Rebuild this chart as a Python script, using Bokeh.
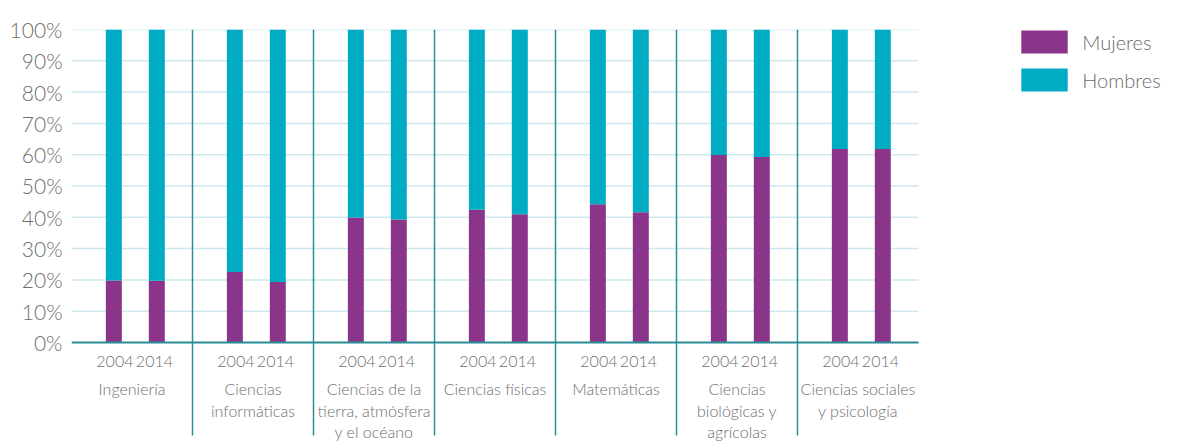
from bokeh.plotting import figure
from bokeh.models import Range1d, FixedTicker, ColumnDataSource, Legend, LegendItem
from bokeh.core.properties import value
from bokeh.embed import file_html
from bokeh.resources import INLINE

# ---- data ----
categories = ["Ingeniería", "Ciencias\ninformáticas", "Ciencias de la\ntierra, atmósfera\ny el océano",
              "Ciencias físicas", "Matemáticas", "Ciencias\nbiológicas y\nagrícolas",
              "Ciencias sociales\ny psicología"]
years = ["2004", "2014"]
mujeres_2004 = [19.8, 22.5, 39.9, 42.4, 44.2, 59.9, 61.8]
mujeres_2014 = [19.7, 19.3, 39.3, 41.0, 41.6, 59.3, 61.8]
y_ticks = [0, 10, 20, 30, 40, 50, 60, 70, 80, 90, 100]
y_tick_labels = [f"{t}%" for t in y_ticks]

PURPLE = "#8a3589"
CYAN = "#00acc3"
TEAL = "#2c8e96"
GRID = "#cde9ef"
TXT = "#6e6e6e"
FONT = "Lato Light, Lato"

n = len(categories)
UNIT = 121.0  # px per group
off = [0.35, 0.705]

xs, muj, hom = [], [], []
for i in range(n):
    for j, vals in enumerate([mujeres_2004, mujeres_2014]):
        xs.append(i + off[j])
        muj.append(vals[i])
        hom.append(100 - vals[i])
src = ColumnDataSource(dict(x=xs, Mujeres=muj, Hombres=hom))

W, H = 1178, 441
left, top = 71, 29
frame_w = W - left
p = figure(width=W, height=H, output_backend="svg", toolbar_location=None,
           x_range=Range1d(0, frame_w / UNIT), y_range=Range1d(-31.63, 100),
           min_border_left=left, min_border_right=0, min_border_top=top, min_border_bottom=0,
           x_axis_location=None)
p.outline_line_color = None
p.xgrid.visible = False
p.ygrid.visible = False

p.yaxis.ticker = FixedTicker(ticks=y_ticks)
p.yaxis.major_label_overrides = {t: l for t, l in zip(y_ticks, y_tick_labels)}
p.yaxis.axis_line_color = None
p.yaxis.major_tick_line_color = None
p.yaxis.minor_tick_line_color = None
p.yaxis.major_tick_out = 0
p.yaxis.major_label_standoff = 9
p.yaxis.major_label_text_font = FONT
p.yaxis.major_label_text_font_size = "21px"
p.yaxis.major_label_text_color = TXT

# gridlines (only across the chart area)
p.segment(x0=[0] * len(y_ticks), x1=[n] * len(y_ticks), y0=y_ticks, y1=y_ticks,
          line_color=GRID, line_width=1.5)

# separators
sep_x = [float(k) for k in range(1, n)]
p.segment(x0=sep_x, x1=sep_x, y0=[100] * len(sep_x), y1=[-29.7] * len(sep_x),
          line_color=TEAL, line_width=1.5)

rs = p.vbar_stack(["Mujeres", "Hombres"], x="x", width=0.132, source=src,
                  color=[PURPLE, CYAN], line_color=None)

# baseline
p.segment(x0=[0], x1=[n], y0=[0], y1=[0], line_color=TEAL, line_width=2)

# year labels
p.text(x=[i + 0.512 for i in range(n)], y=[-6.0] * n, text=[years[0]] * n,
       text_align="right", text_baseline="middle",
       text_font=value(FONT), text_font_size="16px", text_color=TXT)
p.text(x=[i + 0.532 for i in range(n)], y=[-6.0] * n, text=[years[1]] * n,
       text_align="left", text_baseline="middle",
       text_font=value(FONT), text_font_size="16px", text_color=TXT)

# category labels
p.text(x=[i + 0.5 for i in range(n)], y=[-11.6] * n, text=categories,
       text_align="center", text_baseline="top", text_line_height=1.15,
       text_font=value(FONT), text_font_size="16px", text_color=TXT)

gw, gh = 57.5, 28.75
legend = Legend(items=[LegendItem(label="Mujeres", renderers=[rs[0]]),
                       LegendItem(label="Hombres", renderers=[rs[1]])],
                location=(1015.25 - left, H - 94), orientation="vertical",
                glyph_width=int(round(gw)), glyph_height=int(round(gh)), label_height=int(round(gh)),
                spacing=9, label_standoff=9, padding=0, margin=0,
                border_line_color=None, background_fill_alpha=0,
                label_text_font=FONT, label_text_font_size="20px", label_text_color=TXT)
p.add_layout(legend)

open("out.html", "w").write(file_html(p, INLINE))
